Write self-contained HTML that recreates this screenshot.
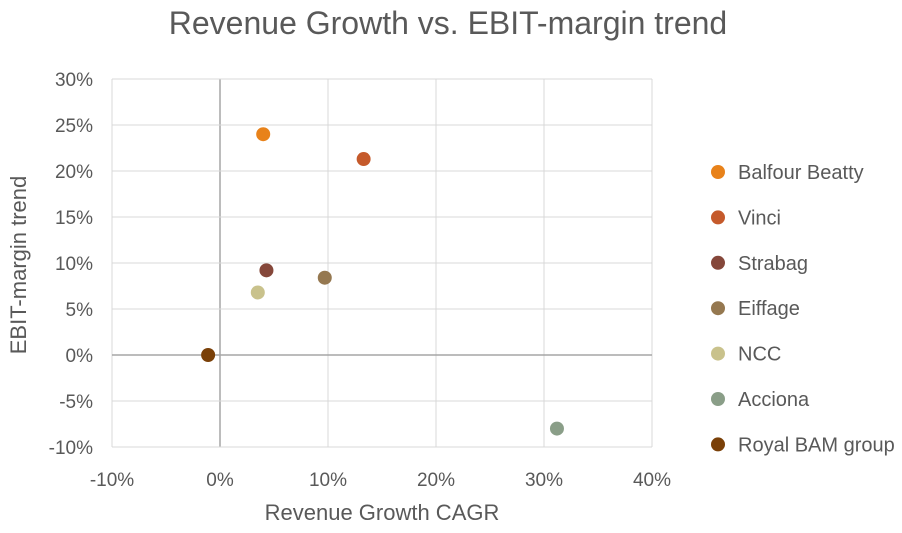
<!DOCTYPE html>
<html><head><meta charset="utf-8"><style>
body{margin:0;background:#fff;}
svg text{font-family:"Liberation Sans",sans-serif;fill:#595959;}
</style></head><body>
<svg id="chart" width="902" height="528" viewBox="0 0 902 528" xmlns="http://www.w3.org/2000/svg">
<text x="448" y="34" font-size="32" text-anchor="middle">Revenue Growth vs. EBIT-margin trend</text>
<g id="grid"></g><g id="axes"></g><g id="ticks"></g><g id="points"></g><g id="legend"></g>
<text x="382" y="520" font-size="22" text-anchor="middle">Revenue Growth CAGR</text>
<text transform="translate(26,265) rotate(-90)" font-size="22" text-anchor="middle">EBIT-margin trend</text>
</svg>
<script>
const names=["Balfour Beatty","Vinci","Strabag","Eiffage","NCC","Acciona","Royal BAM group"];
const growth=[4.0,13.3,4.3,9.7,3.5,31.2,-1.1];
const margin=[24.0,21.3,9.2,8.4,6.8,-8.0,0.0];
const colors=["#E8821A","#C55A2B","#85473A","#957850","#C9C28C","#8A9E88","#7A4008"];
const xTicks=[-10,0,10,20,30,40];
const yTicks=[-10,-5,0,5,10,15,20,25,30];
const NS="http://www.w3.org/2000/svg";
const X0=112,X1=652,Y0=447,Y1=79;
function xs(v){return X0+(v+10)/50*(X1-X0);}
function ys(v){return Y0-(v+10)/40*(Y0-Y1);}
function mk(t,a,p){const e=document.createElementNS(NS,t);for(const k in a)e.setAttribute(k,a[k]);document.getElementById(p).appendChild(e);return e;}
xTicks.forEach(t=>{
 const l=mk("line",{x1:xs(t),x2:xs(t),y1:Y1,y2:Y0,stroke:t===0?"#A6A6A6":"#D9D9D9","stroke-width":t===0?1.5:1},"grid");
 
 
 const tx=mk("text",{x:xs(t),y:486,"font-size":19,"text-anchor":"middle"},"ticks");
 tx.textContent=t+"%";
 
 
});
yTicks.forEach(t=>{
 if(t!==0){const l=mk("line",{x1:X0,x2:X1,y1:ys(t),y2:ys(t),stroke:"#D9D9D9","stroke-width":1},"grid");
 
 }
 const tx=mk("text",{x:93,y:ys(t)+7,"font-size":19,"text-anchor":"end"},"ticks");
 tx.textContent=t+"%";
 
 
});
const xa=mk("line",{x1:X0,x2:X1,y1:ys(0),y2:ys(0),stroke:"#A6A6A6","stroke-width":1.5},"axes");


names.forEach((n,i)=>{
 const c=mk("circle",{cx:xs(growth[i]),cy:ys(margin[i]),r:7,fill:colors[i]},"points");
 
 
 const ly=172+i*45.4;
 const g=mk("g",{},"legend");
 
 
 const m=document.createElementNS(NS,"circle");m.setAttribute("cx",718);m.setAttribute("cy",ly);m.setAttribute("r",7);m.setAttribute("fill",colors[i]);g.appendChild(m);
 const t=document.createElementNS(NS,"text");t.setAttribute("x",738);t.setAttribute("y",ly+7);t.setAttribute("font-size",20);t.textContent=n;g.appendChild(t);
});
</script>
</body></html>
